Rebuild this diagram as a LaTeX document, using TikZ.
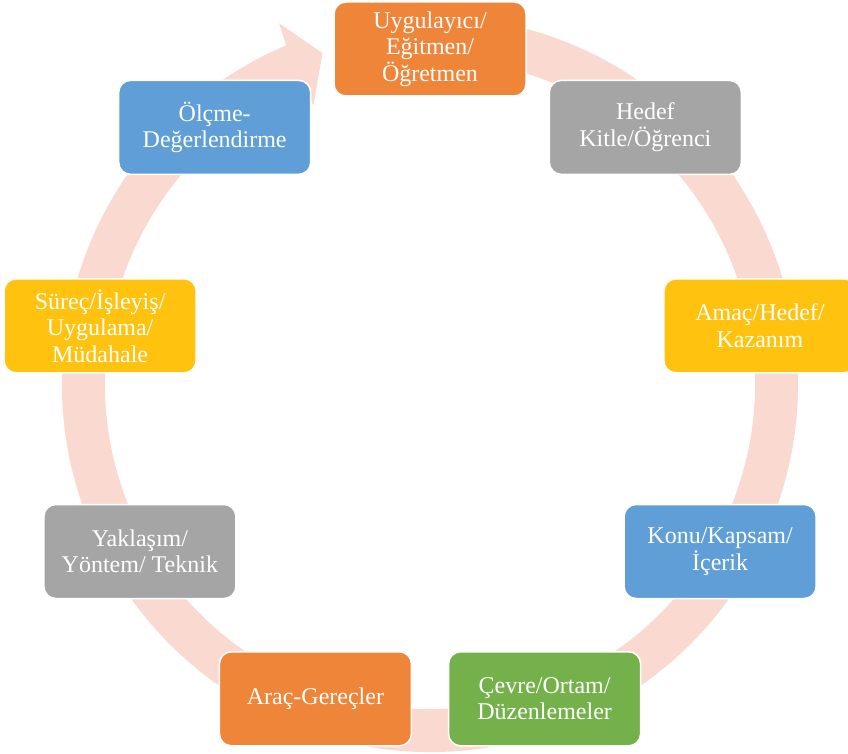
\documentclass[tikz,border=0pt]{standalone}
\usepackage{fontspec}
\setmainfont{Liberation Serif}
\definecolor{ringpink}{HTML}{FAD9D1}
\definecolor{boxorange}{HTML}{EE8539}
\definecolor{boxgray}{HTML}{A5A5A5}
\definecolor{boxgold}{HTML}{FFC20E}
\definecolor{boxblue}{HTML}{5F9ED6}
\definecolor{boxgreen}{HTML}{74B14B}
\begin{document}
\begin{tikzpicture}[x = 1pt, y = 1pt,
	stage/.style = {draw = white, line width = 1.5pt, rounded corners = 12pt, minimum width = 192pt, minimum height = 94pt, align = center, text = white, font = \fontsize{24}{26.5}\selectfont}]
	\useasboundingbox (0, 0) rectangle (848, 753);
	\begin{scope}[shift = {(430, 369)}]
		% ring with arrow head
		\fill[ringpink] (76:368) arc[start angle = 76, end angle = -247, radius = 368] -- (-247.3:391) -- (-252:348) -- (-247.3:302) -- (-247:325) arc[start angle = -247, end angle = 76, radius = 325] -- cycle;
		\node[stage, fill = boxorange] (trainer) at (90:335) {Uygulayıcı/\\Eğitmen/\\Öğretmen};
		\node[stage, fill = boxgray] (target) at (50:335) {Hedef\\Kitle/Öğrenci};
		\node[stage, fill = boxgold] (goal) at (10:335) {Amaç/Hedef/\\Kazanım};
		\node[stage, fill = boxblue] (content) at (-30:335) {Konu/Kapsam/\\İçerik};
		\node[stage, fill = boxgreen] (setting) at (-70:335) {Çevre/Ortam/\\Düzenlemeler};
		\node[stage, fill = boxorange] (tools) at (-110:335) {Araç-Gereçler};
		\node[stage, fill = boxgray] (method) at (-150:335) {Yaklaşım/\\Yöntem/ Teknik};
		\node[stage, fill = boxgold] (process) at (170:335) {Süreç/İşleyiş/\\Uygulama/\\Müdahale};
		\node[stage, fill = boxblue] (assess) at (130:335) {Ölçme-\\Değerlendirme};
	\end{scope}
\end{tikzpicture}
\end{document}
